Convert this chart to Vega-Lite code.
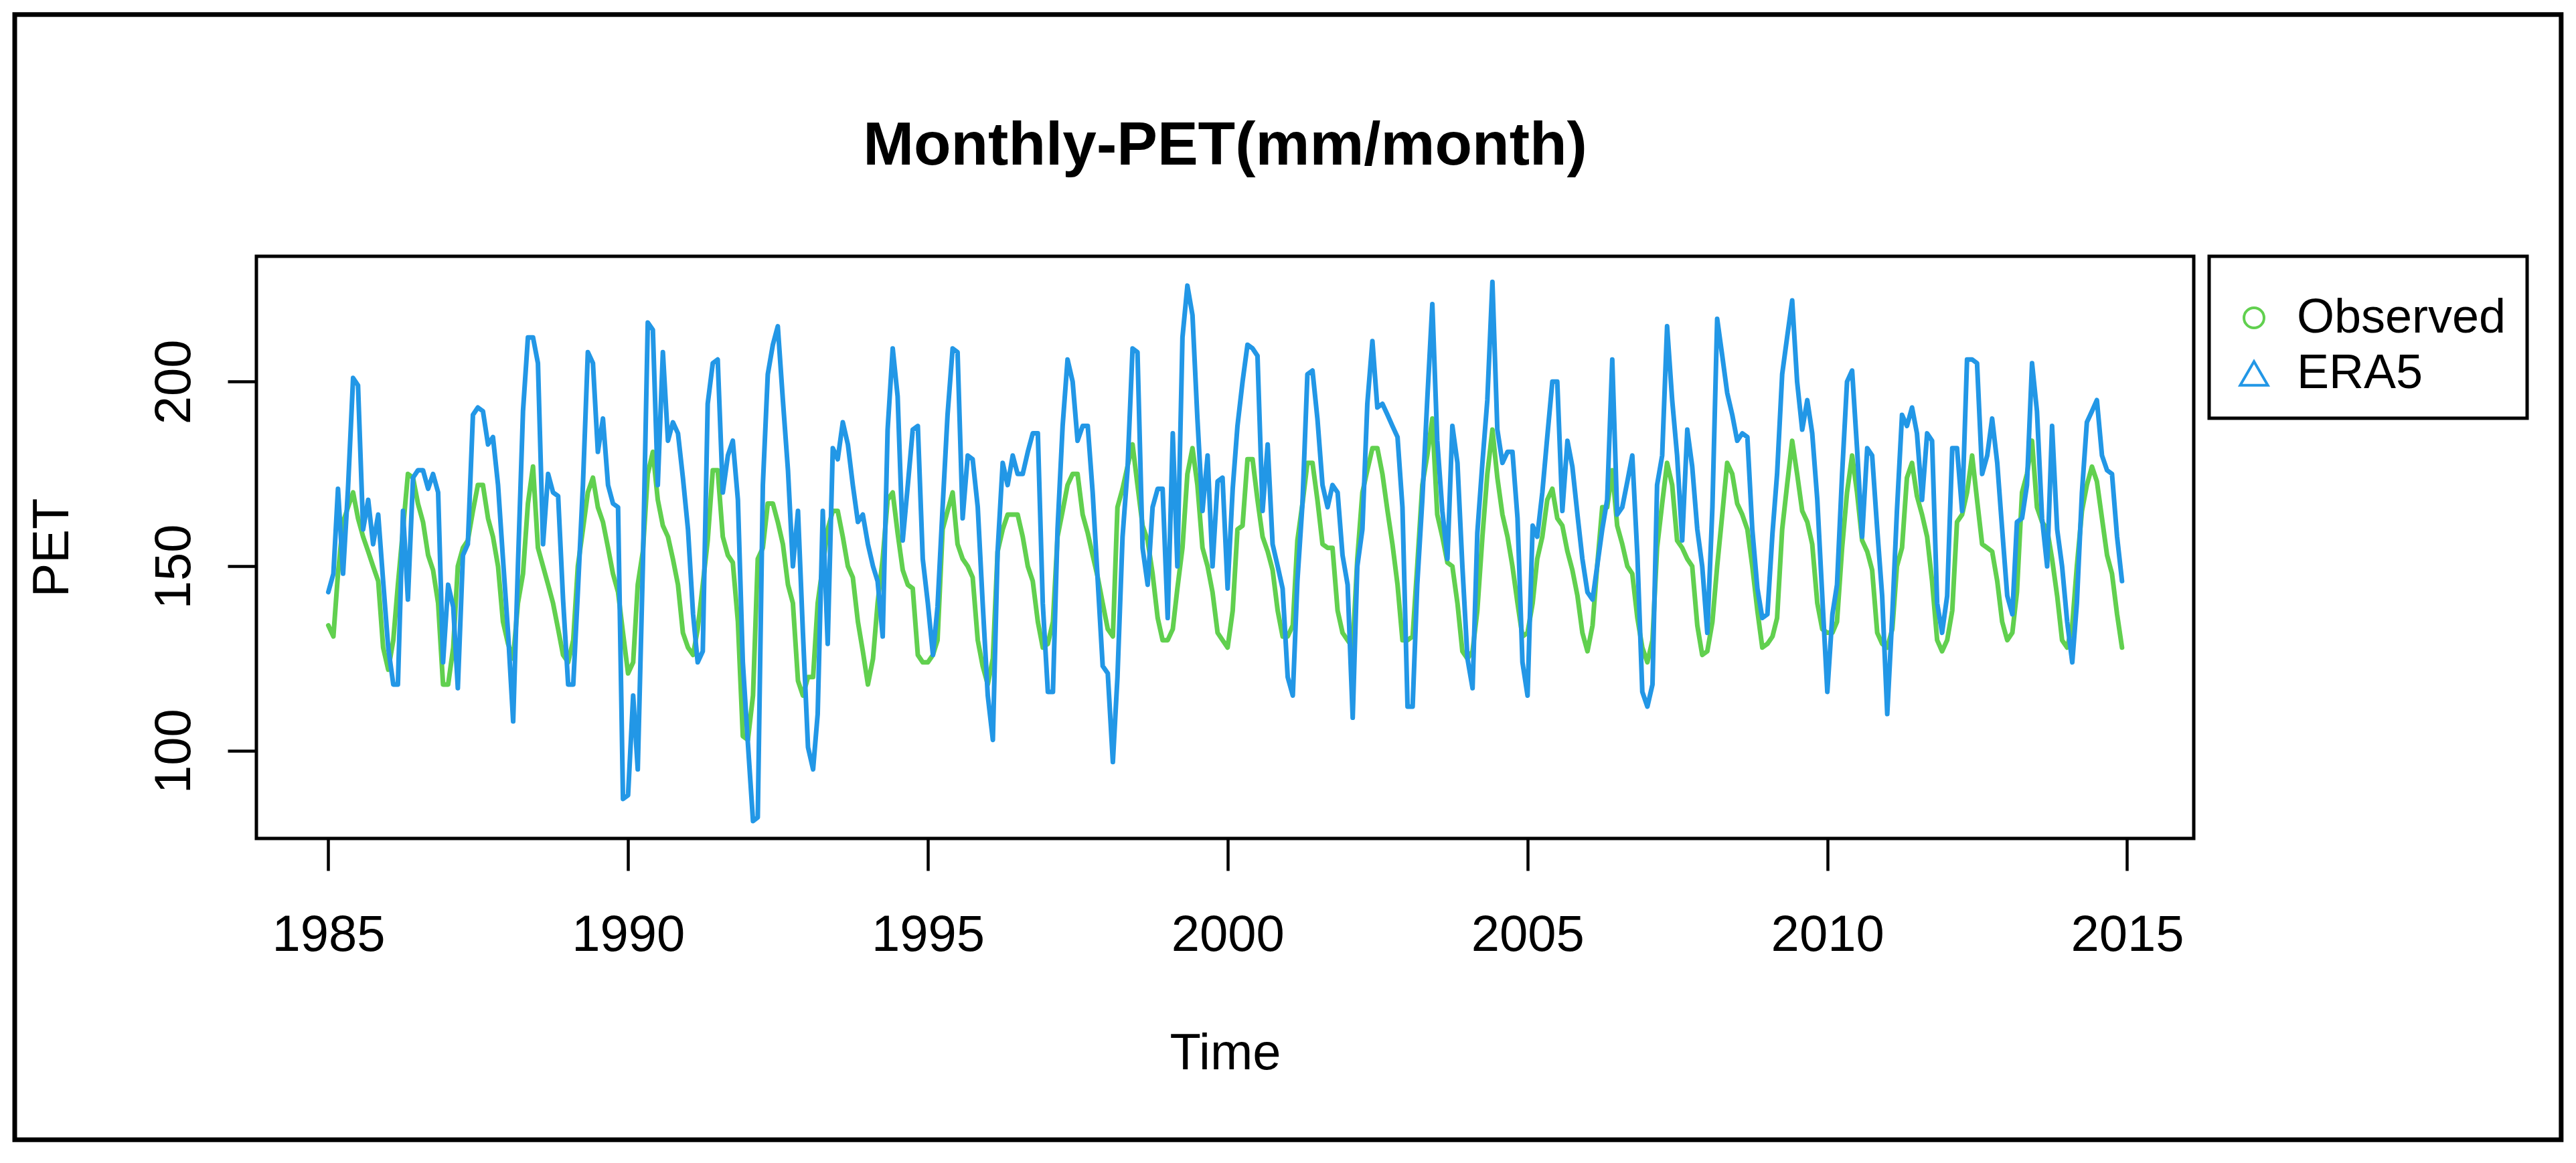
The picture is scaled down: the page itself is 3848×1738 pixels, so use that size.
{
"$schema": "https://vega.github.io/schema/vega-lite/v6.json",
"width": 2894,
"height": 870,
"autosize": {"type": "none"},
"padding": {"left": 383, "top": 383, "right": 571, "bottom": 485},
"background": "white",
"config": {"view": {"stroke": "black", "strokeWidth": 5}, "font": "Liberation Sans"},
"title": {"text": "Monthly-PET(mm/month)", "fontSize": 91, "fontWeight": "bold", "font": "Liberation Sans", "color": "black", "anchor": "middle", "frame": "group", "baseline": "alphabetic", "offset": -319},
"data": {"values": [
{"date":"1985-01","observed":134,"era5":143},{"date":"1985-02","observed":131,"era5":148},{"date":"1985-03","observed":148,"era5":171},{"date":"1985-04","observed":162,"era5":148},{"date":"1985-05","observed":166,"era5":171},{"date":"1985-06","observed":170,"era5":201},{"date":"1985-07","observed":163,"era5":199},{"date":"1985-08","observed":158,"era5":160},{"date":"1985-09","observed":154,"era5":168},{"date":"1985-10","observed":150,"era5":156},{"date":"1985-11","observed":146,"era5":164},{"date":"1985-12","observed":128,"era5":146},
{"date":"1986-01","observed":122,"era5":128},{"date":"1986-02","observed":130,"era5":118},{"date":"1986-03","observed":145,"era5":118},{"date":"1986-04","observed":160,"era5":165},{"date":"1986-05","observed":175,"era5":141},{"date":"1986-06","observed":174,"era5":174},{"date":"1986-07","observed":167,"era5":176},{"date":"1986-08","observed":162,"era5":176},{"date":"1986-09","observed":153,"era5":171},{"date":"1986-10","observed":149,"era5":175},{"date":"1986-11","observed":140,"era5":170},{"date":"1986-12","observed":118,"era5":124},
{"date":"1987-01","observed":118,"era5":145},{"date":"1987-02","observed":128,"era5":139},{"date":"1987-03","observed":150,"era5":117},{"date":"1987-04","observed":155,"era5":153},{"date":"1987-05","observed":157,"era5":156},{"date":"1987-06","observed":165,"era5":191},{"date":"1987-07","observed":172,"era5":193},{"date":"1987-08","observed":172,"era5":192},{"date":"1987-09","observed":163,"era5":183},{"date":"1987-10","observed":158,"era5":185},{"date":"1987-11","observed":150,"era5":172},{"date":"1987-12","observed":135,"era5":152},
{"date":"1988-01","observed":129,"era5":132},{"date":"1988-02","observed":125,"era5":108},{"date":"1988-03","observed":140,"era5":150},{"date":"1988-04","observed":148,"era5":192},{"date":"1988-05","observed":167,"era5":212},{"date":"1988-06","observed":177,"era5":212},{"date":"1988-07","observed":155,"era5":205},{"date":"1988-08","observed":150,"era5":156},{"date":"1988-09","observed":145,"era5":175},{"date":"1988-10","observed":140,"era5":170},{"date":"1988-11","observed":133,"era5":169},{"date":"1988-12","observed":126,"era5":141},
{"date":"1989-01","observed":124,"era5":118},{"date":"1989-02","observed":130,"era5":118},{"date":"1989-03","observed":150,"era5":143},{"date":"1989-04","observed":160,"era5":172},{"date":"1989-05","observed":170,"era5":208},{"date":"1989-06","observed":174,"era5":205},{"date":"1989-07","observed":166,"era5":181},{"date":"1989-08","observed":162,"era5":190},{"date":"1989-09","observed":155,"era5":172},{"date":"1989-10","observed":148,"era5":167},{"date":"1989-11","observed":143,"era5":166},{"date":"1989-12","observed":132,"era5":87},
{"date":"1990-01","observed":121,"era5":88},{"date":"1990-02","observed":124,"era5":115},{"date":"1990-03","observed":145,"era5":95},{"date":"1990-04","observed":154,"era5":150},{"date":"1990-05","observed":175,"era5":216},{"date":"1990-06","observed":181,"era5":214},{"date":"1990-07","observed":168,"era5":172},{"date":"1990-08","observed":161,"era5":208},{"date":"1990-09","observed":158,"era5":184},{"date":"1990-10","observed":152,"era5":189},{"date":"1990-11","observed":145,"era5":186},{"date":"1990-12","observed":132,"era5":174},
{"date":"1991-01","observed":128,"era5":160},{"date":"1991-02","observed":126,"era5":137},{"date":"1991-03","observed":133,"era5":124},{"date":"1991-04","observed":145,"era5":127},{"date":"1991-05","observed":157,"era5":194},{"date":"1991-06","observed":176,"era5":205},{"date":"1991-07","observed":176,"era5":206},{"date":"1991-08","observed":158,"era5":170},{"date":"1991-09","observed":153,"era5":180},{"date":"1991-10","observed":151,"era5":184},{"date":"1991-11","observed":135,"era5":168},{"date":"1991-12","observed":104,"era5":124},
{"date":"1992-01","observed":103,"era5":102},{"date":"1992-02","observed":115,"era5":81},{"date":"1992-03","observed":152,"era5":82},{"date":"1992-04","observed":155,"era5":172},{"date":"1992-05","observed":167,"era5":202},{"date":"1992-06","observed":167,"era5":210},{"date":"1992-07","observed":162,"era5":215},{"date":"1992-08","observed":156,"era5":195},{"date":"1992-09","observed":145,"era5":176},{"date":"1992-10","observed":140,"era5":150},{"date":"1992-11","observed":119,"era5":165},{"date":"1992-12","observed":115,"era5":132},
{"date":"1993-01","observed":120,"era5":101},{"date":"1993-02","observed":120,"era5":95},{"date":"1993-03","observed":140,"era5":110},{"date":"1993-04","observed":150,"era5":165},{"date":"1993-05","observed":160,"era5":129},{"date":"1993-06","observed":165,"era5":182},{"date":"1993-07","observed":165,"era5":179},{"date":"1993-08","observed":158,"era5":189},{"date":"1993-09","observed":150,"era5":183},{"date":"1993-10","observed":147,"era5":172},{"date":"1993-11","observed":135,"era5":162},{"date":"1993-12","observed":127,"era5":164},
{"date":"1994-01","observed":118,"era5":156},{"date":"1994-02","observed":125,"era5":150},{"date":"1994-03","observed":140,"era5":146},{"date":"1994-04","observed":152,"era5":131},{"date":"1994-05","observed":168,"era5":187},{"date":"1994-06","observed":170,"era5":209},{"date":"1994-07","observed":159,"era5":196},{"date":"1994-08","observed":149,"era5":157},{"date":"1994-09","observed":145,"era5":172},{"date":"1994-10","observed":144,"era5":187},{"date":"1994-11","observed":126,"era5":188},{"date":"1994-12","observed":124,"era5":152},
{"date":"1995-01","observed":124,"era5":140},{"date":"1995-02","observed":126,"era5":126},{"date":"1995-03","observed":130,"era5":139},{"date":"1995-04","observed":160,"era5":166},{"date":"1995-05","observed":165,"era5":191},{"date":"1995-06","observed":170,"era5":209},{"date":"1995-07","observed":156,"era5":208},{"date":"1995-08","observed":152,"era5":163},{"date":"1995-09","observed":150,"era5":180},{"date":"1995-10","observed":147,"era5":179},{"date":"1995-11","observed":130,"era5":166},{"date":"1995-12","observed":123,"era5":140},
{"date":"1996-01","observed":118,"era5":115},{"date":"1996-02","observed":125,"era5":103},{"date":"1996-03","observed":154,"era5":154},{"date":"1996-04","observed":160,"era5":178},{"date":"1996-05","observed":164,"era5":172},{"date":"1996-06","observed":164,"era5":180},{"date":"1996-07","observed":164,"era5":175},{"date":"1996-08","observed":158,"era5":175},{"date":"1996-09","observed":150,"era5":181},{"date":"1996-10","observed":146,"era5":186},{"date":"1996-11","observed":135,"era5":186},{"date":"1996-12","observed":128,"era5":140},
{"date":"1997-01","observed":129,"era5":116},{"date":"1997-02","observed":135,"era5":116},{"date":"1997-03","observed":158,"era5":160},{"date":"1997-04","observed":165,"era5":188},{"date":"1997-05","observed":172,"era5":206},{"date":"1997-06","observed":175,"era5":200},{"date":"1997-07","observed":175,"era5":184},{"date":"1997-08","observed":164,"era5":188},{"date":"1997-09","observed":159,"era5":188},{"date":"1997-10","observed":153,"era5":170},{"date":"1997-11","observed":147,"era5":146},{"date":"1997-12","observed":140,"era5":123},
{"date":"1998-01","observed":133,"era5":121},{"date":"1998-02","observed":131,"era5":97},{"date":"1998-03","observed":166,"era5":120},{"date":"1998-04","observed":171,"era5":158},{"date":"1998-05","observed":177,"era5":176},{"date":"1998-06","observed":183,"era5":209},{"date":"1998-07","observed":172,"era5":208},{"date":"1998-08","observed":161,"era5":155},{"date":"1998-09","observed":157,"era5":145},{"date":"1998-10","observed":148,"era5":166},{"date":"1998-11","observed":136,"era5":171},{"date":"1998-12","observed":130,"era5":171},
{"date":"1999-01","observed":130,"era5":136},{"date":"1999-02","observed":133,"era5":186},{"date":"1999-03","observed":144,"era5":150},{"date":"1999-04","observed":155,"era5":212},{"date":"1999-05","observed":175,"era5":226},{"date":"1999-06","observed":182,"era5":218},{"date":"1999-07","observed":172,"era5":190},{"date":"1999-08","observed":155,"era5":165},{"date":"1999-09","observed":150,"era5":180},{"date":"1999-10","observed":143,"era5":150},{"date":"1999-11","observed":132,"era5":173},{"date":"1999-12","observed":130,"era5":174},
{"date":"2000-01","observed":128,"era5":144},{"date":"2000-02","observed":138,"era5":171},{"date":"2000-03","observed":160,"era5":188},{"date":"2000-04","observed":161,"era5":200},{"date":"2000-05","observed":179,"era5":210},{"date":"2000-06","observed":179,"era5":209},{"date":"2000-07","observed":168,"era5":207},{"date":"2000-08","observed":158,"era5":165},{"date":"2000-09","observed":154,"era5":183},{"date":"2000-10","observed":149,"era5":156},{"date":"2000-11","observed":138,"era5":150},{"date":"2000-12","observed":131,"era5":144},
{"date":"2001-01","observed":131,"era5":120},{"date":"2001-02","observed":134,"era5":115},{"date":"2001-03","observed":157,"era5":146},{"date":"2001-04","observed":167,"era5":167},{"date":"2001-05","observed":178,"era5":202},{"date":"2001-06","observed":178,"era5":203},{"date":"2001-07","observed":168,"era5":190},{"date":"2001-08","observed":156,"era5":172},{"date":"2001-09","observed":155,"era5":166},{"date":"2001-10","observed":155,"era5":172},{"date":"2001-11","observed":138,"era5":170},{"date":"2001-12","observed":132,"era5":153},
{"date":"2002-01","observed":130,"era5":145},{"date":"2002-02","observed":128,"era5":109},{"date":"2002-03","observed":152,"era5":150},{"date":"2002-04","observed":170,"era5":160},{"date":"2002-05","observed":176,"era5":194},{"date":"2002-06","observed":182,"era5":211},{"date":"2002-07","observed":182,"era5":193},{"date":"2002-08","observed":175,"era5":194},{"date":"2002-09","observed":165,"era5":191},{"date":"2002-10","observed":156,"era5":188},{"date":"2002-11","observed":145,"era5":185},{"date":"2002-12","observed":130,"era5":166},
{"date":"2003-01","observed":130,"era5":112},{"date":"2003-02","observed":131,"era5":112},{"date":"2003-03","observed":150,"era5":145},{"date":"2003-04","observed":172,"era5":168},{"date":"2003-05","observed":180,"era5":195},{"date":"2003-06","observed":190,"era5":221},{"date":"2003-07","observed":164,"era5":184},{"date":"2003-08","observed":158,"era5":165},{"date":"2003-09","observed":151,"era5":152},{"date":"2003-10","observed":150,"era5":188},{"date":"2003-11","observed":140,"era5":178},{"date":"2003-12","observed":127,"era5":150},
{"date":"2004-01","observed":125,"era5":125},{"date":"2004-02","observed":127,"era5":117},{"date":"2004-03","observed":138,"era5":159},{"date":"2004-04","observed":158,"era5":178},{"date":"2004-05","observed":175,"era5":195},{"date":"2004-06","observed":187,"era5":227},{"date":"2004-07","observed":174,"era5":187},{"date":"2004-08","observed":164,"era5":178},{"date":"2004-09","observed":158,"era5":181},{"date":"2004-10","observed":150,"era5":181},{"date":"2004-11","observed":140,"era5":163},{"date":"2004-12","observed":131,"era5":124},
{"date":"2005-01","observed":132,"era5":115},{"date":"2005-02","observed":140,"era5":161},{"date":"2005-03","observed":152,"era5":158},{"date":"2005-04","observed":158,"era5":170},{"date":"2005-05","observed":168,"era5":185},{"date":"2005-06","observed":171,"era5":200},{"date":"2005-07","observed":163,"era5":200},{"date":"2005-08","observed":161,"era5":165},{"date":"2005-09","observed":154,"era5":184},{"date":"2005-10","observed":149,"era5":177},{"date":"2005-11","observed":142,"era5":164},{"date":"2005-12","observed":132,"era5":152},
{"date":"2006-01","observed":127,"era5":143},{"date":"2006-02","observed":134,"era5":141},{"date":"2006-03","observed":150,"era5":150},{"date":"2006-04","observed":166,"era5":160},{"date":"2006-05","observed":166,"era5":168},{"date":"2006-06","observed":176,"era5":206},{"date":"2006-07","observed":161,"era5":164},{"date":"2006-08","observed":156,"era5":166},{"date":"2006-09","observed":150,"era5":173},{"date":"2006-10","observed":148,"era5":180},{"date":"2006-11","observed":136,"era5":153},{"date":"2006-12","observed":128,"era5":116},
{"date":"2007-01","observed":124,"era5":112},{"date":"2007-02","observed":130,"era5":118},{"date":"2007-03","observed":155,"era5":172},{"date":"2007-04","observed":167,"era5":180},{"date":"2007-05","observed":178,"era5":215},{"date":"2007-06","observed":172,"era5":195},{"date":"2007-07","observed":157,"era5":180},{"date":"2007-08","observed":155,"era5":157},{"date":"2007-09","observed":152,"era5":187},{"date":"2007-10","observed":150,"era5":177},{"date":"2007-11","observed":134,"era5":160},{"date":"2007-12","observed":126,"era5":150},
{"date":"2008-01","observed":127,"era5":132},{"date":"2008-02","observed":135,"era5":166},{"date":"2008-03","observed":150,"era5":217},{"date":"2008-04","observed":164,"era5":207},{"date":"2008-05","observed":178,"era5":197},{"date":"2008-06","observed":175,"era5":191},{"date":"2008-07","observed":167,"era5":184},{"date":"2008-08","observed":164,"era5":186},{"date":"2008-09","observed":160,"era5":185},{"date":"2008-10","observed":150,"era5":160},{"date":"2008-11","observed":138,"era5":144},{"date":"2008-12","observed":128,"era5":136},
{"date":"2009-01","observed":129,"era5":137},{"date":"2009-02","observed":131,"era5":159},{"date":"2009-03","observed":136,"era5":175},{"date":"2009-04","observed":160,"era5":202},{"date":"2009-05","observed":172,"era5":212},{"date":"2009-06","observed":184,"era5":222},{"date":"2009-07","observed":175,"era5":200},{"date":"2009-08","observed":165,"era5":187},{"date":"2009-09","observed":162,"era5":195},{"date":"2009-10","observed":156,"era5":186},{"date":"2009-11","observed":140,"era5":168},{"date":"2009-12","observed":133,"era5":142},
{"date":"2010-01","observed":132,"era5":116},{"date":"2010-02","observed":132,"era5":137},{"date":"2010-03","observed":135,"era5":145},{"date":"2010-04","observed":155,"era5":175},{"date":"2010-05","observed":170,"era5":200},{"date":"2010-06","observed":180,"era5":203},{"date":"2010-07","observed":170,"era5":182},{"date":"2010-08","observed":157,"era5":158},{"date":"2010-09","observed":154,"era5":182},{"date":"2010-10","observed":149,"era5":180},{"date":"2010-11","observed":132,"era5":160},{"date":"2010-12","observed":129,"era5":142},
{"date":"2011-01","observed":128,"era5":110},{"date":"2011-02","observed":133,"era5":137},{"date":"2011-03","observed":150,"era5":165},{"date":"2011-04","observed":155,"era5":191},{"date":"2011-05","observed":174,"era5":188},{"date":"2011-06","observed":178,"era5":193},{"date":"2011-07","observed":169,"era5":186},{"date":"2011-08","observed":164,"era5":168},{"date":"2011-09","observed":158,"era5":186},{"date":"2011-10","observed":146,"era5":184},{"date":"2011-11","observed":130,"era5":140},{"date":"2011-12","observed":127,"era5":132},
{"date":"2012-01","observed":130,"era5":142},{"date":"2012-02","observed":138,"era5":182},{"date":"2012-03","observed":162,"era5":182},{"date":"2012-04","observed":164,"era5":165},{"date":"2012-05","observed":170,"era5":206},{"date":"2012-06","observed":180,"era5":206},{"date":"2012-07","observed":168,"era5":205},{"date":"2012-08","observed":156,"era5":175},{"date":"2012-09","observed":155,"era5":180},{"date":"2012-10","observed":154,"era5":190},{"date":"2012-11","observed":146,"era5":178},{"date":"2012-12","observed":135,"era5":160},
{"date":"2013-01","observed":130,"era5":142},{"date":"2013-02","observed":132,"era5":137},{"date":"2013-03","observed":143,"era5":162},{"date":"2013-04","observed":170,"era5":163},{"date":"2013-05","observed":175,"era5":172},{"date":"2013-06","observed":184,"era5":205},{"date":"2013-07","observed":166,"era5":192},{"date":"2013-08","observed":162,"era5":163},{"date":"2013-09","observed":160,"era5":150},{"date":"2013-10","observed":152,"era5":188},{"date":"2013-11","observed":142,"era5":160},{"date":"2013-12","observed":130,"era5":150},
{"date":"2014-01","observed":128,"era5":135},{"date":"2014-02","observed":134,"era5":124},{"date":"2014-03","observed":150,"era5":140},{"date":"2014-04","observed":165,"era5":170},{"date":"2014-05","observed":172,"era5":189},{"date":"2014-06","observed":177,"era5":192},{"date":"2014-07","observed":173,"era5":195},{"date":"2014-08","observed":163,"era5":180},{"date":"2014-09","observed":153,"era5":176},{"date":"2014-10","observed":148,"era5":175},{"date":"2014-11","observed":137,"era5":158},{"date":"2014-12","observed":128,"era5":146}
]},
"layer": [
{
"mark": {"type": "line", "strokeWidth": 7, "strokeJoin": "round", "strokeCap": "round"},
"encoding": {
"x": {"field": "date", "type": "temporal",
"scale": {"type": "utc", "domain": [{"year": 1983, "month": 10, "date": 21, "utc": true}, {"year": 2016, "month": 2, "date": 11, "utc": true}]},
"axis": {"values": [{"year": 1985, "utc": true}, {"year": 1990, "utc": true}, {"year": 1995, "utc": true}, {"year": 2000, "utc": true}, {"year": 2005, "utc": true}, {"year": 2010, "utc": true}, {"year": 2015, "utc": true}],
"format": "%Y", "labelAngle": 0, "labelFontSize": 76, "labelFont": "Liberation Sans", "labelColor": "black", "labelBaseline": "alphabetic", "labelPadding": 119, "labelFlush": false, "labelOverlap": false,
"tickSize": 48, "tickWidth": 4.5, "tickColor": "black", "domain": false, "grid": false,
"title": "Time", "titleFontSize": 76, "titleFont": "Liberation Sans", "titleFontWeight": "normal", "titleColor": "black", "titleBaseline": "alphabetic", "titlePadding": 162}},
"y": {"field": "observed", "type": "quantitative",
"scale": {"domain": [76.3, 233.95], "zero": false, "nice": false},
"axis": {"values": [100, 150, 200], "labelAngle": -90, "labelAlign": "center", "labelBaseline": "alphabetic", "labelFontSize": 76, "labelFont": "Liberation Sans", "labelColor": "black", "labelPadding": 57,
"tickSize": 43, "tickWidth": 4.5, "tickColor": "black", "domain": false, "grid": false,
"title": "PET", "titleFontSize": 76, "titleFont": "Liberation Sans", "titleFontWeight": "normal", "titleColor": "black", "titleBaseline": "alphabetic", "titlePadding": 121}},
"color": {"datum": "Observed", "type": "nominal",
"scale": {"domain": ["Observed", "ERA5"], "range": ["#61D04F", "#2297E6"]},
"legend": {"title": " ", "titleFontSize": 25, "titlePadding": 0, "orient": "none", "legendX": 2917, "legendY": 0, "padding": 31, "strokeColor": "black", "fillColor": "white",
"labelFontSize": 72, "labelFont": "Liberation Sans", "labelColor": "black", "labelOffset": 28, "labelLimit": 0,
"symbolType": "circle", "symbolSize": 900, "symbolStrokeWidth": 4, "symbolFillColor": "transparent", "symbolOffset": 0, "rowPadding": 11,
"encode": {"legend": {"update": {"strokeWidth": {"value": 5}}},
"symbols": {"update": {"shape": {"signal": "datum.value === 'ERA5' ? 'triangle-up' : 'circle'"}, "size": {"signal": "datum.value === 'ERA5' ? 1700 : 900"}, "fill": {"value": "transparent"}, "strokeWidth": {"value": 4}}}}}}
}
},
{
"mark": {"type": "line", "strokeWidth": 7, "strokeJoin": "round", "strokeCap": "round"},
"encoding": {
"x": {"field": "date", "type": "temporal"},
"y": {"field": "era5", "type": "quantitative"},
"color": {"datum": "ERA5", "type": "nominal"}
}
},
{
"data": {"values": [{}]},
"mark": {"type": "rect", "fill": "transparent", "stroke": "black", "strokeWidth": 7},
"encoding": {
"x": {"datum": {"year": 1979, "month": 10, "date": 10, "utc": true}, "type": "temporal"},
"x2": {"datum": {"year": 2022, "month": 3, "date": 29, "utc": true}},
"y": {"datum": 299.4, "type": "quantitative"},
"y2": {"datum": -5.3}
}
}
]
}
